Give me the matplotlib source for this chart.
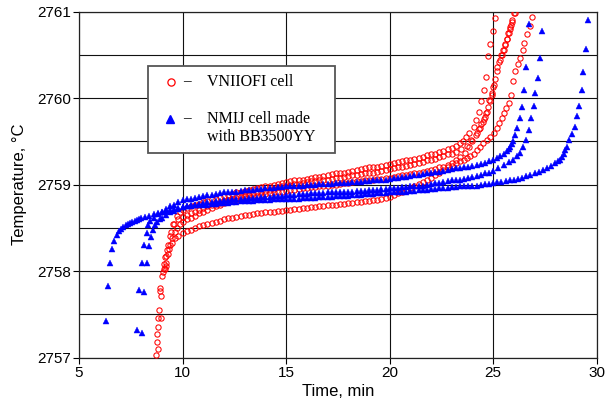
import matplotlib
matplotlib.use("Agg")
import matplotlib.pyplot as plt
from matplotlib.ticker import FixedLocator
from matplotlib.patches import Rectangle

plt.rcParams["font.family"] = ["Liberation Sans", "DejaVu Sans"]

# ---------------- data ----------------
x_ticks = [5, 10, 15, 20, 25, 30]
y_ticks = [2757, 2758, 2759, 2760, 2761]
y_half_grid = [2757.5, 2758.5, 2759.5, 2760.5]
x_label = "Time, min"
y_label = "Temperature, °C"
legend_red = "VNIIOFI cell"
legend_blue_1 = "NMIJ cell made"
legend_blue_2 = "with BB3500YY"

# common sampling grid of the plateau readings (min)
t_grid = [8.0, 8.2, 8.4, 8.6, 8.8, 9.0, 9.2, 9.4, 9.6, 9.8,
          10.0, 10.2, 10.4, 10.6, 10.8, 11.0, 11.2, 11.4, 11.6, 11.8,
          12.0, 12.2, 12.4, 12.6, 12.8, 13.0, 13.2, 13.4, 13.6, 13.8,
          14.0, 14.2, 14.4, 14.6, 14.8, 15.0, 15.2, 15.4, 15.6, 15.8,
          16.0, 16.2, 16.4, 16.6, 16.8, 17.0, 17.2, 17.4, 17.6, 17.8,
          18.0, 18.2, 18.4, 18.6, 18.8, 19.0, 19.2, 19.4, 19.6, 19.8,
          20.0, 20.2, 20.4, 20.6, 20.8, 21.0, 21.2, 21.4, 21.6, 21.8,
          22.0, 22.2, 22.4, 22.6, 22.8, 23.0, 23.2, 23.4, 23.6, 23.8,
          24.0, 24.2, 24.4, 24.6, 24.8, 25.0, 25.2, 25.4, 25.6, 25.8,
          26.0, 26.2, 26.4, 26.6, 26.8, 27.0]

# ---- VNIIOFI cell runs (red circles) ----
vn1_start_t = [8.72, 8.75, 8.83, 8.90, 9.06, 9.15, 9.26, 9.40, 9.55, 9.72, 9.88]
vn1_start_T = [2757.03, 2757.27, 2757.46, 2757.81, 2757.99, 2758.16, 2758.25, 2758.41, 2758.55, 2758.64, 2758.69]
vn1_plat_t0 = 10.0
vn1_plat_T = [2758.71, 2758.73, 2758.75, 2758.77, 2758.78, 2758.80, 2758.81, 2758.83, 2758.84, 2758.86,
              2758.87, 2758.88, 2758.89, 2758.91, 2758.92, 2758.93, 2758.94, 2758.95, 2758.96, 2758.97,
              2758.98, 2758.99, 2759.00, 2759.01, 2759.02, 2759.03, 2759.04, 2759.05, 2759.05, 2759.06,
              2759.07, 2759.08, 2759.09, 2759.09, 2759.10, 2759.11, 2759.12, 2759.13, 2759.13, 2759.14,
              2759.15, 2759.16, 2759.17, 2759.18, 2759.19, 2759.20, 2759.21, 2759.21, 2759.22, 2759.23,
              2759.24, 2759.25, 2759.26, 2759.27, 2759.28, 2759.29, 2759.30, 2759.31, 2759.32, 2759.34,
              2759.35, 2759.36, 2759.38, 2759.39, 2759.41, 2759.43]
vn1_end_t = [23.2, 23.4, 23.55, 23.7, 23.85, 24.05, 24.17, 24.30, 24.42, 24.54, 24.65, 24.76, 24.87, 24.97, 25.10]
vn1_end_T = [2759.45, 2759.48, 2759.51, 2759.55, 2759.60, 2759.67, 2759.75, 2759.84, 2759.97, 2760.10,
             2760.25, 2760.49, 2760.63, 2760.78, 2760.93]

vn2_start_t = [8.80, 8.83, 8.96, 8.96, 9.10, 9.22, 9.30, 9.45, 9.60, 9.80]
vn2_start_T = [2757.10, 2757.35, 2757.46, 2757.71, 2758.03, 2758.06, 2758.30, 2758.45, 2758.55, 2758.60]
vn2_plat_t0 = 10.0
vn2_plat_T = [2758.63, 2758.65, 2758.67, 2758.69, 2758.71, 2758.73, 2758.75, 2758.76, 2758.78, 2758.79,
              2758.81, 2758.82, 2758.83, 2758.85, 2758.86, 2758.87, 2758.88, 2758.90, 2758.91, 2758.92,
              2758.93, 2758.94, 2758.95, 2758.97, 2758.98, 2758.99, 2759.00, 2759.01, 2759.01, 2759.02,
              2759.03, 2759.04, 2759.04, 2759.05, 2759.06, 2759.06, 2759.07, 2759.08, 2759.08, 2759.09,
              2759.10, 2759.11, 2759.11, 2759.12, 2759.13, 2759.13, 2759.14, 2759.15, 2759.16, 2759.17,
              2759.18, 2759.19, 2759.20, 2759.21, 2759.22, 2759.23, 2759.24, 2759.25, 2759.26, 2759.28,
              2759.29, 2759.30, 2759.32, 2759.33, 2759.35, 2759.36]
vn2_end_t = [23.2, 23.45, 23.72, 23.95, 24.2, 24.38, 24.53, 24.62, 24.70, 24.82, 24.94, 25.06, 25.20,
             25.31, 25.42, 25.50, 25.58, 25.66, 25.74, 25.82, 25.90, 26.00]
vn2_end_T = [2759.38, 2759.41, 2759.45, 2759.52, 2759.60, 2759.66, 2759.73, 2759.78, 2759.84, 2759.98,
             2760.06, 2760.15, 2760.36, 2760.44, 2760.50, 2760.56, 2760.62, 2760.69, 2760.75, 2760.82,
             2760.88, 2760.99]

vn3_start_t = [9.15, 9.22, 9.30, 9.40, 9.50, 9.62, 9.75, 9.88]
vn3_start_T = [2758.03, 2758.10, 2758.20, 2758.30, 2758.38, 2758.45, 2758.50, 2758.54]
vn3_plat_t0 = 10.0
vn3_plat_T = [2758.57, 2758.60, 2758.62, 2758.64, 2758.67, 2758.69, 2758.71, 2758.73, 2758.75, 2758.77,
              2758.79, 2758.80, 2758.81, 2758.82, 2758.84, 2758.85, 2758.86, 2758.87, 2758.87, 2758.88,
              2758.89, 2758.90, 2758.91, 2758.91, 2758.92, 2758.93, 2758.94, 2758.94, 2758.95, 2758.96,
              2758.96, 2758.97, 2758.97, 2758.98, 2758.99, 2758.99, 2759.00, 2759.00, 2759.01, 2759.02,
              2759.02, 2759.03, 2759.04, 2759.04, 2759.05, 2759.05, 2759.06, 2759.07, 2759.07, 2759.08,
              2759.08, 2759.09, 2759.10, 2759.11, 2759.11, 2759.12, 2759.13, 2759.14, 2759.15, 2759.16,
              2759.17, 2759.18, 2759.20, 2759.21, 2759.23, 2759.25]
vn3_end_t = [23.2, 23.4, 23.65, 23.85, 24.0, 24.15, 24.30, 24.43, 24.55, 24.65, 24.75, 24.84, 24.92,
             25.01, 25.10, 25.19, 25.28, 25.38, 25.48, 25.57, 25.66, 25.73, 25.80, 25.86, 25.92, 26.05]
vn3_end_T = [2759.28, 2759.32, 2759.37, 2759.44, 2759.50, 2759.57, 2759.64, 2759.70, 2759.76, 2759.83,
             2759.90, 2759.97, 2760.04, 2760.13, 2760.22, 2760.32, 2760.42, 2760.50, 2760.56, 2760.63,
             2760.69, 2760.75, 2760.80, 2760.85, 2760.90, 2760.99]

vn4_start_t = [8.78, 8.85, 8.92, 9.02, 9.12, 9.22, 9.35, 9.50, 9.65, 9.80]
vn4_start_T = [2757.18, 2757.55, 2757.77, 2757.95, 2758.08, 2758.18, 2758.26, 2758.33, 2758.38, 2758.41]
vn4_plat_t0 = 10.0
vn4_plat_T = [2758.44, 2758.46, 2758.48, 2758.50, 2758.52, 2758.53, 2758.55, 2758.56, 2758.57, 2758.58,
              2758.60, 2758.61, 2758.62, 2758.63, 2758.64, 2758.65, 2758.65, 2758.66, 2758.67, 2758.67,
              2758.68, 2758.69, 2758.69, 2758.70, 2758.70, 2758.71, 2758.71, 2758.72, 2758.72, 2758.73,
              2758.73, 2758.74, 2758.74, 2758.75, 2758.75, 2758.76, 2758.76, 2758.77, 2758.78, 2758.78,
              2758.79, 2758.79, 2758.80, 2758.80, 2758.81, 2758.81, 2758.82, 2758.82, 2758.83, 2758.85,
              2758.86, 2758.88, 2758.90, 2758.92, 2758.94, 2758.96, 2758.98, 2759.01, 2759.03, 2759.06,
              2759.08, 2759.11, 2759.14, 2759.17, 2759.20, 2759.22]
vn4_end_t = [23.2, 23.4, 23.57, 23.75, 23.9, 24.05, 24.21, 24.37, 24.53, 24.70, 24.86, 25.02, 25.18,
             25.30, 25.42, 25.53, 25.63, 25.74, 25.87, 25.98, 26.06, 26.19, 26.30, 26.42, 26.51, 26.63,
             26.76, 26.87]
vn4_end_T = [2759.25, 2759.27, 2759.29, 2759.31, 2759.33, 2759.36, 2759.40, 2759.44, 2759.48, 2759.52,
             2759.55, 2759.60, 2759.66, 2759.71, 2759.77, 2759.83, 2759.89, 2759.95, 2760.04, 2760.20,
             2760.31, 2760.40, 2760.47, 2760.56, 2760.64, 2760.74, 2760.83, 2760.94]

# ---- NMIJ cell runs (blue triangles) ----
nm1_start_t = [6.29, 6.39, 6.50, 6.61, 6.71, 6.82, 6.92, 7.03, 7.14, 7.25, 7.36, 7.47, 7.58, 7.69, 7.80, 7.90]
nm1_start_T = [2757.43, 2757.83, 2758.10, 2758.26, 2758.35, 2758.42, 2758.46, 2758.49, 2758.51, 2758.53,
               2758.54, 2758.56, 2758.57, 2758.58, 2758.59, 2758.60]
nm1_plat_t0 = 8.0
nm1_plat_T = [2758.61, 2758.63, 2758.64, 2758.66, 2758.67, 2758.69, 2758.70, 2758.71, 2758.72, 2758.73,
              2758.74, 2758.75, 2758.75, 2758.76, 2758.76, 2758.77, 2758.77, 2758.78, 2758.78, 2758.79,
              2758.79, 2758.79, 2758.80, 2758.80, 2758.81, 2758.81, 2758.81, 2758.81, 2758.82, 2758.82,
              2758.82, 2758.82, 2758.83, 2758.83, 2758.83, 2758.83, 2758.84, 2758.84, 2758.84, 2758.85,
              2758.85, 2758.85, 2758.85, 2758.86, 2758.86, 2758.86, 2758.86, 2758.87, 2758.87, 2758.87,
              2758.87, 2758.88, 2758.88, 2758.88, 2758.89, 2758.89, 2758.89, 2758.90, 2758.90, 2758.90,
              2758.91, 2758.91, 2758.92, 2758.92, 2758.92, 2758.93, 2758.93, 2758.94, 2758.94, 2758.94,
              2758.95, 2758.95, 2758.96, 2758.96, 2758.96, 2758.97, 2758.97, 2758.98, 2758.98, 2758.98,
              2758.99, 2758.99, 2759.00, 2759.01, 2759.01, 2759.02, 2759.03, 2759.03, 2759.04, 2759.05,
              2759.06, 2759.07, 2759.08, 2759.10, 2759.11, 2759.13]
nm1_end_t = [27.2, 27.4, 27.6, 27.8, 28.0, 28.12, 28.24, 28.32, 28.40, 28.48, 28.56, 28.67, 28.80, 28.93,
             29.05, 29.16, 29.27, 29.36, 29.48, 29.57]
nm1_end_T = [2759.15, 2759.17, 2759.19, 2759.22, 2759.25, 2759.27, 2759.29, 2759.32, 2759.36, 2759.40,
             2759.44, 2759.52, 2759.59, 2759.67, 2759.79, 2759.91, 2760.09, 2760.30, 2760.57, 2760.90]

nm2_start_t = [7.82, 7.92, 8.03, 8.14, 8.27, 8.35, 8.45]
nm2_start_T = [2757.32, 2757.78, 2758.10, 2758.30, 2758.44, 2758.53, 2758.58]
nm2_plat_t0 = 8.6
nm2_plat_T = [2758.62, 2758.66, 2758.69, 2758.72, 2758.75, 2758.77, 2758.80, 2758.82, 2758.83, 2758.84,
              2758.85, 2758.86, 2758.87, 2758.88, 2758.88, 2758.89, 2758.90, 2758.91, 2758.91, 2758.92,
              2758.92, 2758.93, 2758.94, 2758.94, 2758.94, 2758.95, 2758.95, 2758.96, 2758.96, 2758.96,
              2758.97, 2758.97, 2758.98, 2758.98, 2758.98, 2758.99, 2758.99, 2759.00, 2759.00, 2759.00,
              2759.01, 2759.01, 2759.01, 2759.01, 2759.02, 2759.02, 2759.02, 2759.02, 2759.03, 2759.03,
              2759.03, 2759.04, 2759.04, 2759.05, 2759.05, 2759.06, 2759.06, 2759.07, 2759.08, 2759.08,
              2759.09, 2759.09, 2759.10, 2759.11, 2759.11, 2759.12, 2759.13, 2759.14, 2759.15, 2759.15,
              2759.16, 2759.17, 2759.18, 2759.19, 2759.19, 2759.20, 2759.21, 2759.22, 2759.23, 2759.24,
              2759.25, 2759.27, 2759.28]
nm2_end_t = [25.17, 25.34, 25.50, 25.66, 25.75, 25.82, 25.89, 25.95, 26.06, 26.15, 26.28, 26.39, 26.50,
             26.60, 26.71]
nm2_end_T = [2759.31, 2759.33, 2759.36, 2759.39, 2759.41, 2759.44, 2759.47, 2759.50, 2759.57, 2759.66,
             2759.77, 2759.90, 2760.09, 2760.36, 2760.86]

nm3_start_t = [8.03, 8.15, 8.27, 8.38, 8.48, 8.59, 8.67, 8.78, 8.89]
nm3_start_T = [2757.29, 2757.76, 2758.10, 2758.29, 2758.40, 2758.48, 2758.53, 2758.57, 2758.60]
nm3_plat_t0 = 9.0
nm3_plat_T = [2758.62, 2758.65, 2758.68, 2758.70, 2758.72, 2758.74, 2758.75, 2758.76, 2758.77, 2758.78,
              2758.79, 2758.80, 2758.80, 2758.81, 2758.81, 2758.82, 2758.82, 2758.83, 2758.83, 2758.84,
              2758.84, 2758.85, 2758.85, 2758.85, 2758.86, 2758.86, 2758.86, 2758.87, 2758.87, 2758.87,
              2758.88, 2758.88, 2758.88, 2758.89, 2758.89, 2758.89, 2758.90, 2758.90, 2758.90, 2758.90,
              2758.91, 2758.91, 2758.91, 2758.92, 2758.92, 2758.92, 2758.92, 2758.93, 2758.93, 2758.93,
              2758.94, 2758.94, 2758.94, 2758.95, 2758.95, 2758.96, 2758.96, 2758.96, 2758.97, 2758.97,
              2758.98, 2758.98, 2758.99, 2758.99, 2759.00, 2759.01, 2759.02, 2759.02, 2759.03, 2759.04,
              2759.05, 2759.06, 2759.06, 2759.07, 2759.08, 2759.09, 2759.10, 2759.11, 2759.13, 2759.14,
              2759.16]
nm3_end_t = [25.25, 25.50, 25.75, 25.98, 26.15, 26.30, 26.46, 26.60, 26.72, 26.82, 26.95, 27.04, 27.14,
             27.27, 27.38]
nm3_end_T = [2759.19, 2759.23, 2759.26, 2759.29, 2759.33, 2759.37, 2759.44, 2759.52, 2759.63, 2759.77,
             2759.91, 2760.06, 2760.23, 2760.47, 2760.78]


def run(start_t, start_T, t0, plat_T, end_t, end_T):
    i = t_grid.index(t0)
    plat_t = t_grid[i:i + len(plat_T)]
    return start_t + plat_t + end_t, start_T + plat_T + end_T


red_runs = [
    run(vn1_start_t, vn1_start_T, vn1_plat_t0, vn1_plat_T, vn1_end_t, vn1_end_T),
    run(vn2_start_t, vn2_start_T, vn2_plat_t0, vn2_plat_T, vn2_end_t, vn2_end_T),
    run(vn3_start_t, vn3_start_T, vn3_plat_t0, vn3_plat_T, vn3_end_t, vn3_end_T),
    run(vn4_start_t, vn4_start_T, vn4_plat_t0, vn4_plat_T, vn4_end_t, vn4_end_T),
]
blue_runs = [
    run(nm1_start_t, nm1_start_T, nm1_plat_t0, nm1_plat_T, nm1_end_t, nm1_end_T),
    run(nm2_start_t, nm2_start_T, nm2_plat_t0, nm2_plat_T, nm2_end_t, nm2_end_T),
    run(nm3_start_t, nm3_start_T, nm3_plat_t0, nm3_plat_T, nm3_end_t, nm3_end_T),
]

# ---------------- figure ----------------
fig = plt.figure(figsize=(6.06, 4.11), dpi=100)
ax = fig.add_axes([0.1304, 0.1297, 0.8543, 0.8418])

for t, T in red_runs:
    ax.plot(t, T, linestyle="none", marker="o", ms=3.8, mfc="none", mec="#ff0000",
            mew=0.75, zorder=3, clip_on=True)
for t, T in blue_runs:
    ax.plot(t, T, linestyle="none", marker="^", ms=4.3, mfc="#0000ff", mec="#0000ff",
            mew=0.3, zorder=4, clip_on=True)

ax.set_xlim(x_ticks[0], x_ticks[-1])
ax.set_ylim(y_ticks[0], y_ticks[-1])
ax.set_xticks(x_ticks)
ax.set_xticklabels([str(v) for v in x_ticks])
ax.set_yticks(y_ticks)
ax.set_yticklabels([str(v) for v in y_ticks])
ax.yaxis.set_minor_locator(FixedLocator(y_half_grid))
ax.set_axisbelow(True)
ax.grid(True, which="both", color="#111111", lw=0.8)
ax.tick_params(which="minor", length=0)
ax.tick_params(which="major", length=4, width=0.8, direction="out", labelsize=11, pad=2,
               colors="black")
for s in ax.spines.values():
    s.set_color("#222222")
    s.set_linewidth(0.9)

ax.set_xlabel(x_label, fontsize=12, labelpad=3)
ax.set_ylabel(y_label, fontsize=12, labelpad=7)

# legend box (drawn manually to match layout)
ax.add_patch(Rectangle((0.1333, 0.5925), 0.3612, 0.2515, transform=ax.transAxes,
                       facecolor="white", edgecolor="#555555", lw=1.3, zorder=10))
ax.plot([0.1782], [0.7977], transform=ax.transAxes, marker="o", ms=5.2, mfc="none",
        mec="#ff0000", mew=0.9, linestyle="none", zorder=11, clip_on=False)
ax.plot([0.1764], [0.6913], transform=ax.transAxes, marker="^", ms=6.0, mfc="#0000ff",
        mec="#0000ff", linestyle="none", zorder=11, clip_on=False)
serif = ["Liberation Serif", "DejaVu Serif"]
for y in (0.7977, 0.6913):
    ax.text(0.208, y, "–", transform=ax.transAxes, fontsize=11, family=serif,
            ha="center", va="center", zorder=11)
ax.text(0.2467, 0.7977, legend_red, transform=ax.transAxes, fontsize=11.5, family=serif,
        ha="left", va="center", zorder=11)
ax.text(0.2467, 0.6913, legend_blue_1, transform=ax.transAxes, fontsize=11.5, family=serif,
        ha="left", va="center", zorder=11)
ax.text(0.2467, 0.6390, legend_blue_2, transform=ax.transAxes, fontsize=11.5, family=serif,
        ha="left", va="center", zorder=11)

fig.savefig("out.png", dpi=100)
